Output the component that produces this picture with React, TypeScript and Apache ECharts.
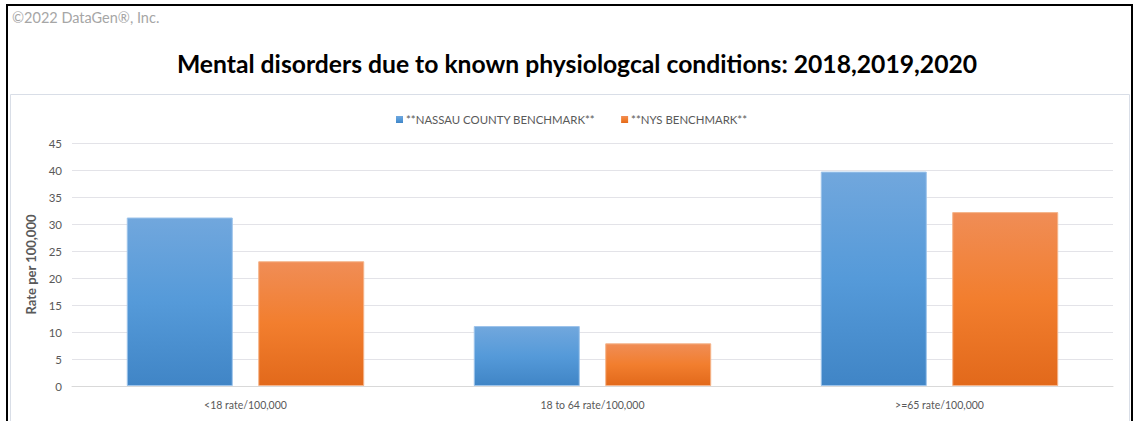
import React, { useEffect, useRef } from "react";
import * as echarts from "echarts";

const categories = ["<18 rate/100,000", "18 to 64 rate/100,000", ">=65 rate/100,000"];
const nassau = [31.2, 11.1, 39.7];
const nys = [23.1, 7.9, 32.2];
const seriesNames = ["**NASSAU COUNTY BENCHMARK**", "**NYS BENCHMARK**"];

const FONT = "Lato, 'Liberation Sans', sans-serif";

export default function App() {
  const ref = useRef<HTMLDivElement>(null);
  useEffect(() => {
    const chart = echarts.init(ref.current!, null, { renderer: "svg" });
    const grad = (top: string, mid: string, bottom: string) =>
      new echarts.graphic.LinearGradient(0, 0, 0, 1, [
        { offset: 0, color: top },
        { offset: 0.5, color: mid },
        { offset: 1, color: bottom },
      ]);
    chart.setOption({
      animation: false,
      backgroundColor: "#ffffff",
      title: {
        text: "Mental disorders due to known physiologcal conditions: 2018,2019,2020",
        left: 572,
        textAlign: "center",
        top: 46,
        textStyle: { fontFamily: FONT, fontWeight: "bold", fontSize: 24.7, color: "#000000" },
      },
      graphic: [
        {
          type: "rect",
          shape: { x: 7, y: 5, width: 1125, height: 440 },
          style: { fill: "none", stroke: "#000000", lineWidth: 2 },
          silent: true,
        },
        {
          type: "rect",
          shape: { x: 10.5, y: 94.5, width: 1119, height: 340 },
          style: { fill: "none", stroke: "#d9dee7", lineWidth: 1 },
          silent: true,
        },
        {
          type: "text",
          x: 12,
          y: 10,
          style: {
            text: "©2022 DataGen®, Inc.",
            fontFamily: FONT,
            fontSize: 14.5,
            fill: "#a6a6a6",
          },
        },
      ],
      legend: {
        data: seriesNames,
        left: 391,
        top: 109,
        itemWidth: 7,
        itemHeight: 7,
        itemGap: 26,
        icon: "rect",
        itemStyle: { borderWidth: 0 },
        textStyle: { fontFamily: FONT, fontSize: 11.4, color: "#595959", padding: [0, 0, 0, -2] },
      },
      grid: { left: 72, right: 22, top: 143, bottom: 35 },
      xAxis: {
        type: "category",
        data: categories,
        axisLine: { lineStyle: { color: "#d9d9d9" } },
        axisTick: { show: false },
        axisLabel: { fontFamily: FONT, fontSize: 10.5, color: "#595959", margin: 13 },
      },
      yAxis: {
        type: "value",
        min: 0,
        max: 45,
        interval: 5,
        name: "Rate per 100,000",
        nameLocation: "middle",
        nameGap: 33,
        nameTextStyle: { fontFamily: FONT, fontSize: 13, fontWeight: "bold", color: "#595959" },
        axisLine: { show: false },
        axisTick: { show: false },
        axisLabel: { fontFamily: FONT, fontSize: 11.5, color: "#595959", margin: 10 },
        splitLine: { lineStyle: { color: "#e3e3e8", width: 1 } },
      },
      series: [
        {
          name: seriesNames[0],
          type: "bar",
          data: nassau,
          barWidth: 106,
          barGap: "24%",
          itemStyle: {
            color: grad("#71a7dd", "#559ad9", "#4085c6"),
            borderColor: "#9cc3ea",
            borderWidth: 1,
          },
        },
        {
          name: seriesNames[1],
          type: "bar",
          data: nys,
          barWidth: 106,
          itemStyle: {
            color: grad("#f08d56", "#f27e2e", "#e2691b"),
            borderColor: "#f5b48a",
            borderWidth: 1,
          },
        },
      ],
    });
    return () => chart.dispose();
  }, []);
  return (
    <div
      ref={ref}
      style={{ position: "absolute", left: 0, top: 0, width: 1135, height: 421 }}
    />
  );
}
